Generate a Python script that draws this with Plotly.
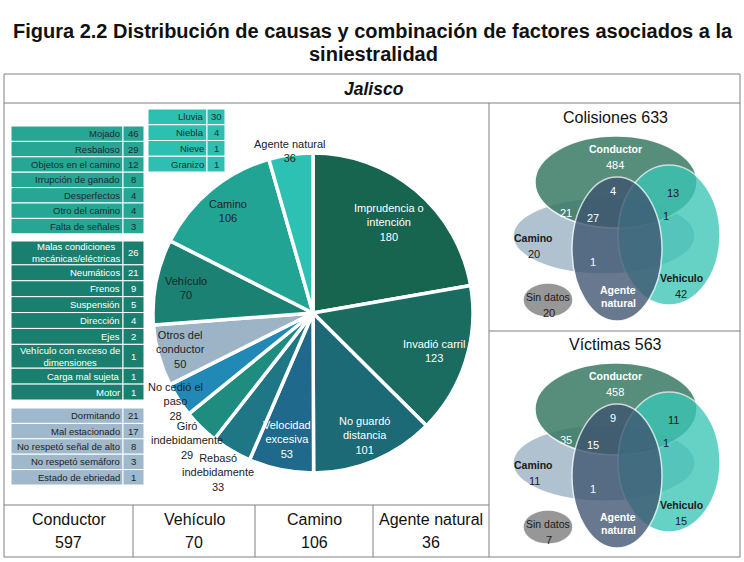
import math
import plotly.graph_objects as go

# ---------------- data ----------------
pie_labels = ["Imprudencia o intención", "Invadió carril", "No guardó distancia",
              "Velocidad excesiva", "Rebasó indebidamente", "Giró indebidamente",
              "No cedió el paso", "Otros del conductor", "Vehículo", "Camino",
              "Agente natural"]
pie_values = [180, 123, 101, 53, 33, 29, 28, 50, 70, 106, 36]
pie_group = ["Conductor"] * 8 + ["Vehículo", "Camino", "Agente natural"]

camino_causes = ["Mojado", "Resbaloso", "Objetos en el camino", "Irrupción de ganado",
                 "Desperfectos", "Otro del camino", "Falta de señales"]
camino_counts = [46, 29, 12, 8, 4, 4, 3]

vehiculo_causes = ["Malas condiciones mecánicas/eléctricas", "Neumáticos", "Frenos",
                   "Suspensión", "Dirección", "Ejes",
                   "Vehículo con exceso de dimensiones", "Carga mal sujeta", "Motor"]
vehiculo_counts = [26, 21, 9, 5, 4, 2, 1, 1, 1]

conductor_otros = ["Dormitando", "Mal estacionado", "No respetó señal de alto",
                   "No respetó semáforo", "Estado de ebriedad"]
conductor_otros_counts = [21, 17, 8, 3, 1]

agente_causes = ["Lluvia", "Niebla", "Nieve", "Granizo"]
agente_counts = [30, 4, 1, 1]

summary_labels = ["Conductor", "Vehículo", "Camino", "Agente natural"]

venn_regions = ["Conductor", "Conductor+Agente", "Conductor+Vehículo", "Conductor+Camino",
                "Conductor+Camino+Agente", "Conductor+Vehículo+Camino", "Camino+Agente",
                "Camino", "Vehiculo", "Sin datos"]
colisiones_values = [484, 4, 13, 21, 27, 1, 1, 20, 42, 20]
victimas_values = [458, 9, 11, 35, 15, 1, 1, 11, 15, 7]
colisiones_total = 633
victimas_total = 563

# ---------------- styles ----------------
FONT = "Arial, Liberation Sans, sans-serif"
W, H = 744, 562
pie_colors = ["#17654f", "#1a6c61", "#1b6a76", "#1f6a8c", "#1f7684", "#1f8c80",
              "#2189b5", "#9db4c7", "#1b8172", "#22a494", "#2cc1b2"]
pie_text_colors = ["white", "white", "white", "white", "#222", "#222", "#222",
                   "#222", "#222", "#222", "#222"]
pie_display = ["Imprudencia o<br>intención", "Invadió carril", "No guardó<br>distancia",
               "Velocidad<br>excesiva", "Rebasó<br>indebidamente", "Giró<br>indebidamente",
               "No cedió el<br>paso", "Otros del<br>conductor", "Vehículo", "Camino",
               "Agente natural"]
pie_label_r = [0.74, 0.79, 0.83, 0.81, 1.16, 1.12, 1.02, 0.86, 0.81, 0.83, 1.02]
PCX, PCY, PR = 313, 313, 160

fig = go.Figure()

# pie
fig.add_trace(go.Pie(
    labels=pie_labels, values=pie_values, sort=False, direction="clockwise",
    rotation=0, textinfo="none", hoverinfo="label+value", showlegend=False,
    marker=dict(colors=pie_colors, line=dict(color="white", width=3.5)),
    domain=dict(x=[(PCX - PR) / W, (PCX + PR) / W],
                y=[(H - PCY - PR) / H, (H - PCY + PR) / H]),
))

shapes = []
ann = []


def text(x, y, s, size=11, color="#222", bold=False, italic=False, xanchor="center"):
    if bold:
        s = "<b>" + s + "</b>"
    if italic:
        s = "<i>" + s + "</i>"
    ann.append(dict(x=x, y=y, xref="x", yref="y", text=s, showarrow=False,
                    xanchor=xanchor, yanchor="middle",
                    font=dict(family=FONT, size=size, color=color)))


def line(x0, y0, x1, y1, color="#808080", width=1):
    shapes.append(dict(type="line", xref="x", yref="y", x0=x0, y0=y0, x1=x1, y1=y1,
                       line=dict(color=color, width=width)))


# pie labels from slice angles
total = sum(pie_values)
cum = 0
for lab, v, r, col in zip(pie_display, pie_values, pie_label_r, pie_text_colors):
    mid = (cum + v / 2) / total * 2 * math.pi
    cum += v
    x = PCX + r * PR * math.sin(mid)
    y = PCY - r * PR * math.cos(mid)
    text(x, y, lab + "<br>" + str(v), size=11, color=col)

# title (two lines)
text(373, 31, "Figura 2.2 Distribución de causas y combinación de factores asociados a la",
     size=20, color="#111", bold=True)
text(373, 54, "siniestralidad", size=20, color="#111", bold=True)

# frame
FX0, FX1, FY0, FY1 = 4, 740, 74, 557
for (a, b, c, d) in [(FX0, FY0, FX1, FY0), (FX0, FY1, FX1, FY1), (FX0, FY0, FX0, FY1),
                     (FX1, FY0, FX1, FY1), (FX0, 103, FX1, 103), (489, 103, 489, FY1),
                     (489, 331, FX1, 331), (FX0, 505, 489, 505)]:
    line(a, b, c, d)
text(374, 88.5, "Jalisco", size=17.5, color="#111", bold=True, italic=True)

# bottom summary table
sums = {}
for g, v in zip(pie_group, pie_values):
    sums[g] = sums.get(g, 0) + v
col_edges = [FX0, 133, 255, 373, 489]
for i, lab in enumerate(summary_labels):
    cx = (col_edges[i] + col_edges[i + 1]) / 2
    text(cx, 519, lab, size=16, color="#111")
    text(cx, 542, str(sums[lab]), size=16, color="#111")
    if i > 0:
        line(col_edges[i], 505, col_edges[i], FY1)


# small cause tables
def table(names, counts, x0, xs, x1, y0, unit, fill, tcolor):
    y = y0
    for n, c in zip(names, counts):
        two = len(n) > 24
        h = unit * (1.5 if two else 1)
        shapes.append(dict(type="rect", xref="x", yref="y", x0=x0, x1=xs, y0=y, y1=y + h,
                           fillcolor=fill, line=dict(color="white", width=1)))
        shapes.append(dict(type="rect", xref="x", yref="y", x0=xs, x1=x1, y0=y, y1=y + h,
                           fillcolor=fill, line=dict(color="white", width=1)))
        lab = n
        if two:
            words = n.split(" ")
            lab = " ".join(words[:2]) + "<br>" + " ".join(words[2:]) if n.startswith("Malas") \
                else " ".join(words[:4]) + "<br>" + " ".join(words[4:])
        text(xs - 1.5, y + h / 2, lab, size=9.5, color=tcolor, xanchor="right")
        text((xs + x1) / 2, y + h / 2, str(c), size=9.5, color=tcolor)
        y += h


table(camino_causes, camino_counts, 11, 123, 144, 126, 15.4, "#27a696", "#1d2b2a")
table(vehiculo_causes, vehiculo_counts, 11, 123, 144, 241, 15.9, "#1b7f70", "white")
table(conductor_otros, conductor_otros_counts, 11, 123, 144, 408, 15.4, "#9fb8cb", "#222")
table(agente_causes, agente_counts, 148, 207, 225, 109, 15.75, "#2dc0b2", "#1d2b2a")


# Venn diagrams
def ellipse(cx, cy, rx, ry, fill, op):
    shapes.append(dict(type="circle", xref="x", yref="y", x0=cx - rx, x1=cx + rx,
                       y0=cy - ry, y1=cy + ry, fillcolor=fill, opacity=op,
                       line=dict(color="rgba(255,255,255,0.9)", width=1.5)))


def venn(dy, title, vals):
    text(615, 117 + dy, title, size=16, color="#111")
    ellipse(604, 236 + dy, 91, 38, "#a3b8c8", 0.85)
    ellipse(616, 182 + dy, 81, 46, "#3a7a64", 0.85)
    ellipse(669, 235 + dy, 51, 70, "#3cc6b7", 0.78)
    ellipse(617, 249 + dy, 45, 72, "#3e5470", 0.78)
    ellipse(548, 300 + dy, 25, 17, "#8c8c8c", 0.9)
    d = dict(zip(venn_regions, vals))
    W_, D_ = "white", "#1a1a1a"
    text(615, 149 + dy, "Conductor", size=10.5, color=W_, bold=True)
    text(615, 165 + dy, str(d["Conductor"]), size=11, color=W_)
    text(613, 191 + dy, str(d["Conductor+Agente"]), size=11, color=W_)
    text(673, 193 + dy, str(d["Conductor+Vehículo"]), size=11, color=D_)
    text(566, 213 + dy, str(d["Conductor+Camino"]), size=11, color=W_)
    text(593, 218 + dy, str(d["Conductor+Camino+Agente"]), size=11, color=W_)
    text(666, 216 + dy, str(d["Conductor+Vehículo+Camino"]), size=11, color=D_)
    text(593, 262 + dy, str(d["Camino+Agente"]), size=11, color=W_)
    text(533, 238 + dy, "Camino", size=10.5, color=D_, bold=True)
    text(534, 254 + dy, str(d["Camino"]), size=11, color=D_)
    text(681, 278 + dy, "Vehiculo", size=10.5, color=D_, bold=True)
    text(681, 294 + dy, str(d["Vehiculo"]), size=11, color=D_)
    text(618, 290 + dy, "Agente", size=10.5, color=W_, bold=True)
    text(618, 303 + dy, "natural", size=10.5, color=W_, bold=True)
    text(548, 297 + dy, "Sin datos", size=10.5, color=D_)
    text(549, 313 + dy, str(d["Sin datos"]), size=11, color=D_)


venn(0, "Colisiones %d" % colisiones_total, colisiones_values)
venn(227, "Víctimas %d" % victimas_total, victimas_values)

fig.update_layout(
    width=W, height=H, autosize=False,
    margin=dict(l=0, r=0, t=0, b=0),
    paper_bgcolor="white", plot_bgcolor="rgba(0,0,0,0)",
    xaxis=dict(range=[0, W], visible=False, fixedrange=True),
    yaxis=dict(range=[H, 0], visible=False, fixedrange=True),
    shapes=shapes, annotations=ann, showlegend=False,
)

fig.write_html("out.html", config={"displayModeBar": False},
               post_script="document.body.style.margin='0';")
